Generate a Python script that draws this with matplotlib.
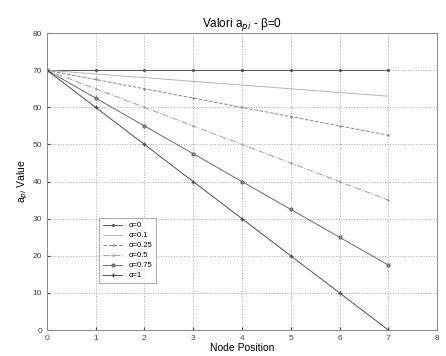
import numpy as np
import matplotlib as mpl
mpl.use('Agg')
import matplotlib.pyplot as plt

plt.rcParams['font.family'] = ['Liberation Sans', 'DejaVu Sans']

nodes = [0, 1, 2, 3, 4, 5, 6, 7]
alpha_labels = ["α=0", "α=0.1", "α=0.25", "α=0.5", "α=0.75", "α=1"]
a_00 = [70, 70, 70, 70, 70, 70, 70, 70]
a_01 = [70, 69, 68, 67, 66, 65, 64, 63]
a_025 = [70, 67.5, 65, 62.5, 60, 57.5, 55, 52.5]
a_05 = [70, 65, 60, 55, 50, 45, 40, 35]
a_075 = [70, 62.5, 55, 47.5, 40, 32.5, 25, 17.5]
a_10 = [70, 60, 50, 40, 30, 20, 10, 0]

fig = plt.figure(figsize=(4.46, 3.56), dpi=100)
ax = fig.add_axes([0.105, 0.073, 0.875, 0.834])

styles = [
    dict(color="#555555", ls="-", marker=".", ms=2.5, lw=0.7),
    dict(color="#b5b5b5", ls="-", marker=None, lw=0.7),
    dict(color="#8a8a8a", ls="--", marker=".", ms=1.5, lw=0.7),
    dict(color="#a0a0a0", ls="-.", marker=".", ms=1.5, lw=0.7),
    dict(color="#6a6a6a", ls="-", marker="o", ms=2, lw=0.7, mfc="#999999"),
    dict(color="#505050", ls="-", marker="+", ms=3, lw=0.7),
]
series = [a_00, a_01, a_025, a_05, a_075, a_10]
for y, lab, st in zip(series, alpha_labels, styles):
    ax.plot(nodes, y, label=lab, **st)

ax.set_xlim(0, 8)
ax.set_ylim(0, 80)
ax.set_xticks(np.arange(0, 9, 1))
ax.set_yticks(np.arange(0, 81, 10))
ax.tick_params(labelsize=6, length=2, direction="in", colors="#444444")
ax.grid(True, ls=":", color="#aaaaaa", lw=0.7)
for s in ax.spines.values():
    s.set_color("#888888")
    s.set_linewidth(0.7)

ax.set_title("Valori a$_{pi}$ - β=0", fontsize=8.5, pad=4)
ax.set_xlabel("Node Position", fontsize=7.5, labelpad=1)
ax.set_ylabel("a$_{pi}$ Value", fontsize=7.5, labelpad=2)

leg = ax.legend(loc="lower left", bbox_to_anchor=(0.125, 0.145), fontsize=5.5,
                frameon=True, fancybox=False, edgecolor="#888888",
                handlelength=2.5, labelspacing=0.35, borderpad=0.5)
leg.get_frame().set_linewidth(0.6)

fig.savefig("out.png", dpi=100)
